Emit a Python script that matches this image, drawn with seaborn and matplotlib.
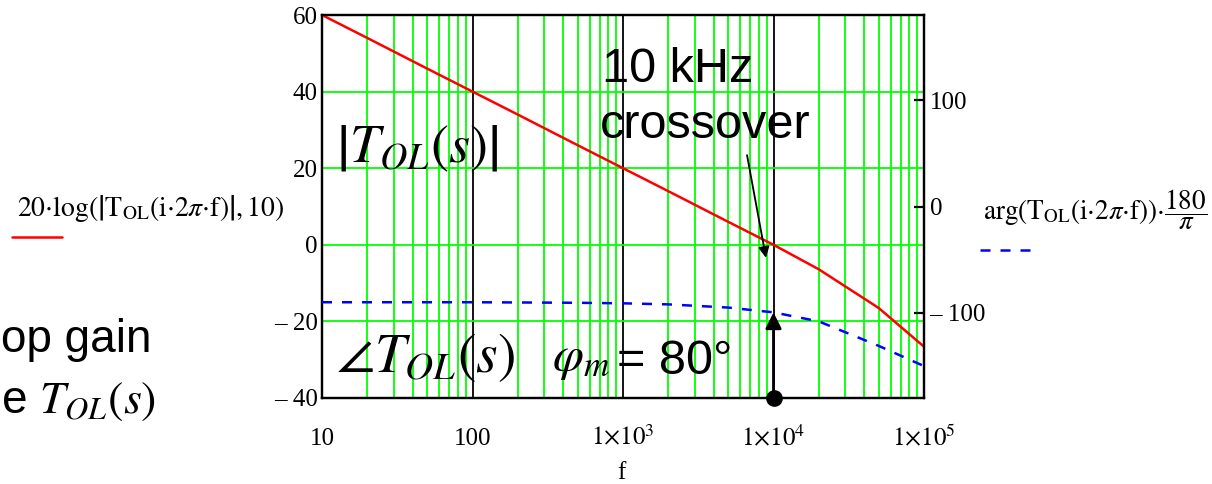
import numpy as np
import pandas as pd
import matplotlib
matplotlib.use("Agg")
import matplotlib.pyplot as plt
from matplotlib.ticker import FixedLocator, FixedFormatter, LogLocator, NullFormatter
from matplotlib.lines import Line2D
import seaborn as sns

# ---- data ----
freq = [10, 20, 50, 100, 200, 500, 1e3, 2e3, 5e3, 1e4, 2e4, 5e4, 1e5]
mag_db = [60, 54, 46, 40, 34, 26, 20, 14, 6, 0, -6.4, -16.5, -26.6]
phase_deg = [-90, -90, -90, -90, -90.2, -90.5, -91, -92, -95, -99.5, -108, -131, -150]

xtick_vals = [10, 100, 1e3, 1e4, 1e5]
xtick_labels = ["10", "100", r"$1{\times}10^{3}$", r"$1{\times}10^{4}$", r"$1{\times}10^{5}$"]
ytick_vals = [-40, -20, 0, 20, 40, 60]
ytick_labels = ["\u2013 40", "\u2013 20", "0", "20", "40", "60"]
y2tick_vals = [-100, 0, 100]
y2tick_labels = ["\u2013 100", "0", "100"]

df_mag = pd.DataFrame({"f": freq, "v": mag_db})
df_ph = pd.DataFrame({"f": freq, "v": phase_deg})

sns.set_style("white")
plt.rcParams["font.family"] = ["Liberation Serif", "DejaVu Serif"]
plt.rcParams["mathtext.fontset"] = "stix"
for k in ["text.color", "axes.labelcolor", "xtick.color", "ytick.color", "axes.edgecolor"]:
    plt.rcParams[k] = "black"

W, H = 1212, 484
fig = plt.figure(figsize=(W / 100, H / 100), dpi=100)


def fx(x):
    return x / W


def fy(y):
    return 1 - y / H


ax = fig.add_axes([fx(322), fy(398), (924 - 322) / W, (398 - 15) / H])
ax.set_xscale("log")
ax.set_xlim(10, 1e5)
ax.set_ylim(-40, 60)

GREEN = "#00ff00"

sns.lineplot(data=df_mag, x="f", y="v", ax=ax, color="red", lw=1.8, zorder=3)
ax.set_xlabel("")
ax.set_ylabel("")

ax2 = ax.twinx()
ax2.set_ylim(-180, 180)
sns.lineplot(data=df_ph, x="f", y="v", ax=ax2, color="blue", lw=1.8, zorder=3)
ax2.lines[-1].set_dashes([4, 4])
ax2.set_ylabel("")
ax2.set_xlabel("")
ax2.grid(False)

ax.set_xscale("log")
ax.set_xlim(10, 1e5)
ax.xaxis.set_major_locator(FixedLocator(xtick_vals))
ax.xaxis.set_major_formatter(FixedFormatter(xtick_labels))
ax.xaxis.set_minor_locator(LogLocator(base=10, subs=range(2, 10), numticks=20))
ax.xaxis.set_minor_formatter(NullFormatter())
ax.yaxis.set_major_locator(FixedLocator(ytick_vals))
ax.yaxis.set_major_formatter(FixedFormatter(ytick_labels))

ax.xaxis.grid(True, which="major", color="black", lw=1.3, zorder=1)
ax.xaxis.grid(True, which="minor", color=GREEN, lw=1.3, zorder=1)
ax.yaxis.grid(True, which="major", color=GREEN, lw=1.3, zorder=1)
ax.set_axisbelow(True)
ax.tick_params(axis="both", which="both", length=0, labelsize=18, colors="black")
ax.tick_params(axis="x", pad=34)
ax.tick_params(axis="y", pad=3)
for tk in ax.xaxis.get_major_ticks():
    tk.label1.set_va("baseline")
for s in ax.spines.values():
    s.set_linewidth(1.6)
    s.set_color("black")

ax2.yaxis.set_major_locator(FixedLocator(y2tick_vals))
ax2.yaxis.set_major_formatter(FixedFormatter(y2tick_labels))
ax2.tick_params(axis="y", direction="in", length=7, width=1.6, labelsize=18, pad=4,
                colors="black")
for s in ax2.spines.values():
    s.set_linewidth(1.6)
    s.set_color("black")

# vertical phase-margin arrow with dot
ax2.annotate("", xy=(1e4, -99.5), xytext=(1e4, -180),
             arrowprops=dict(arrowstyle="-|>", color="black", lw=2.0,
                             mutation_scale=24, shrinkA=0, shrinkB=0),
             zorder=5, annotation_clip=False)
ax2.plot([1e4], [-180], "o", color="black", ms=11, clip_on=False, zorder=6)

# crossover arrow
ax.annotate("", xy=(8910, -3.4), xytext=(6670, 23.4),
            arrowprops=dict(arrowstyle="-|>", color="black", lw=1.3,
                            mutation_scale=16, shrinkA=0, shrinkB=0),
            zorder=5)

SANS = ["Liberation Sans", "DejaVu Sans"]
fig.text(fx(602), fy(82), "10 kHz", family=SANS, fontsize=35, va="baseline", ha="left")
fig.text(fx(600), fy(138), "crossover", family=SANS, fontsize=35, va="baseline", ha="left")
fig.text(fx(336), fy(162), r"$\left|T_{OL}\left(s\right)\right|$", fontsize=39,
         va="baseline", ha="left")
fig.text(fx(336), fy(372), r"$\angle T_{OL}\left(s\right)$", fontsize=40,
         va="baseline", ha="left")
fig.text(fx(552), fy(370), r"$\varphi_{m}$", fontsize=36, va="baseline", ha="left")
fig.text(fx(617), fy(374), "= 80\u00b0", family=SANS, fontsize=35, va="baseline", ha="left")

# slide text cut off at the left of the reference
fig.text(fx(1), fy(352), "op gain", family=SANS, fontsize=33, va="baseline", ha="left")
fig.text(fx(1), fy(413), r"e $T_{OL}(s)$", family=SANS, fontsize=33, va="baseline", ha="left")

# x label
fig.text(fx(621), fy(479), "f", fontsize=18, va="baseline", ha="center")

# trace labels
fig.text(fx(17), fy(208),
         r"$20{\cdot}\mathrm{log}\left(\left|\mathrm{T}_{\mathrm{OL}}(\mathrm{i}{\cdot}2\pi{\cdot}\mathrm{f})\right|,10\right)$",
         fontsize=20, va="center", ha="left")
fig.add_artist(Line2D([fx(12), fx(62)], [fy(237), fy(237)], color="red", lw=1.8))
fig.text(fx(983), fy(210),
         r"$\mathrm{arg}\left(\mathrm{T}_{\mathrm{OL}}(\mathrm{i}{\cdot}2\pi{\cdot}\mathrm{f})\right){\cdot}\dfrac{180}{\pi}$",
         fontsize=19.5, va="center", ha="left")
fig.add_artist(Line2D([fx(980), fx(1030)], [fy(250), fy(250)], color="blue", lw=1.8,
                      dashes=[4, 4]))

fig.savefig("out.png", dpi=100)
